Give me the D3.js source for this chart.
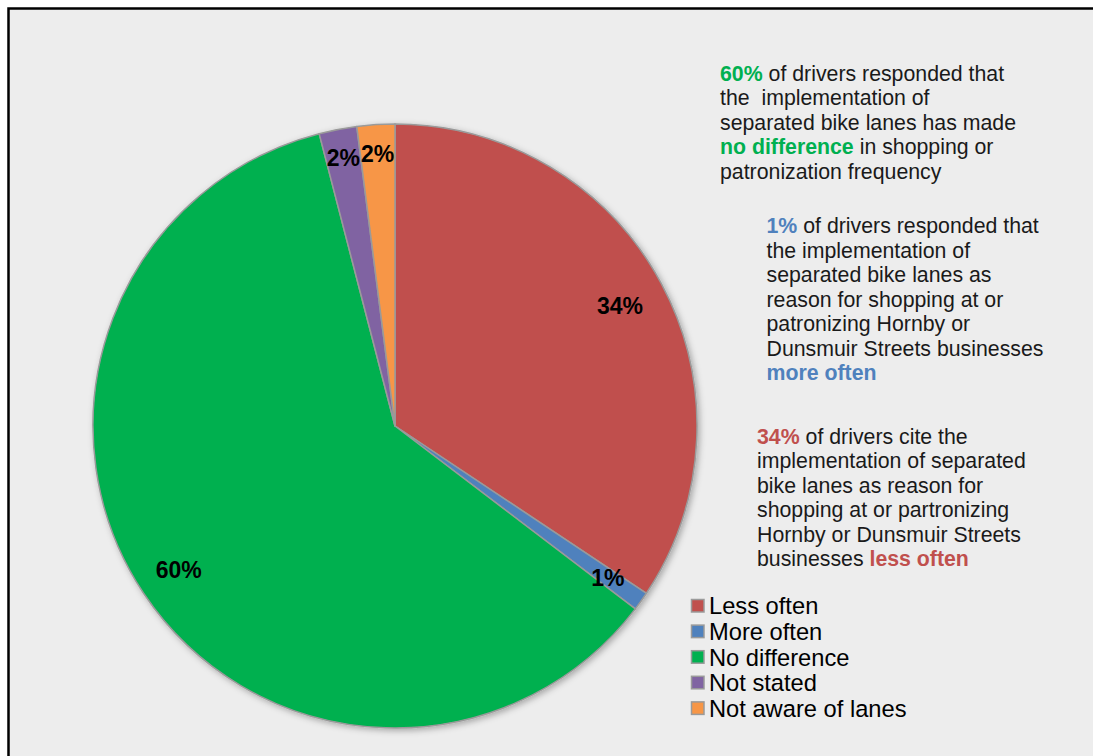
<!DOCTYPE html>
<html>
<head>
<meta charset="utf-8">
<script src="https://cdn.jsdelivr.net/npm/d3@7"></script>
<style>
  html, body { margin: 0; padding: 0; background: #ffffff; overflow: hidden; }
  svg { display: block; font-family: "Liberation Sans", Arial, sans-serif; }
</style>
</head>
<body>
<svg id="chart" width="1093" height="756"></svg>
<script>
// Survey responses: effect of separated bike lanes on drivers' shopping frequency
const categories = ["Less often", "More often", "No difference", "Not stated", "Not aware of lanes"];
const values = [34, 1, 60, 2, 2];
const colors = ["#C0504D", "#4F81BD", "#00B050", "#8064A2", "#F79646"];

// Annotation blocks: each line is a list of [text, bold?, colour?] runs
const noteNoDifference = [
  [["60%", true, "#00B050"], [" of drivers responded that"]],
  [["the \u00A0implementation of"]],
  [["separated bike lanes has made"]],
  [["no difference", true, "#00B050"], [" in shopping or"]],
  [["patronization frequency"]]
];
const noteMoreOften = [
  [["1%", true, "#4F81BD"], [" of drivers responded that"]],
  [["the implementation of"]],
  [["separated bike lanes as"]],
  [["reason for shopping at or"]],
  [["patronizing Hornby or"]],
  [["Dunsmuir Streets businesses"]],
  [["more often", true, "#4F81BD"]]
];
const noteLessOften = [
  [["34%", true, "#C0504D"], [" of drivers cite the"]],
  [["implementation of separated"]],
  [["bike lanes as reason for"]],
  [["shopping at or partronizing"]],
  [["Hornby or Dunsmuir Streets"]],
  [["businesses "], ["less often", true, "#C0504D"]]
];

const svg = d3.select("#chart");
const W = 1093, H = 756;

// Panel background
svg.append("rect")
  .attr("x", 8).attr("y", 8)
  .attr("width", W - 8).attr("height", H - 8)
  .attr("fill", "#EDEDED");
// Frame: top and left edges (the others run past the visible area)
svg.append("path")
  .attr("d", `M8.5,${H} V8.5 H${W}`)
  .attr("fill", "none")
  .attr("stroke", "#000").attr("stroke-width", 2.5);

// Soft shadow under the pie
const defs = svg.append("defs");
const f = defs.append("filter").attr("id", "pieShadow")
  .attr("x", "-10%").attr("y", "-10%").attr("width", "120%").attr("height", "120%");
f.append("feDropShadow").attr("dx", 2).attr("dy", 2)
  .attr("stdDeviation", 3).attr("flood-color", "#000").attr("flood-opacity", 0.3);

const cx = 395, cy = 426, r = 302;
const data = categories.map((c, i) => ({ name: c, value: values[i], color: colors[i] }));

const pie = d3.pie().value(d => d.value).sort(null);
const arcs = pie(data);
const arc = d3.arc().innerRadius(0).outerRadius(r);

const g = svg.append("g").attr("transform", `translate(${cx},${cy})`);

g.append("g").attr("filter", "url(#pieShadow)")
  .selectAll("path").data(arcs).join("path")
  .attr("d", arc)
  .attr("fill", d => d.data.color)
  .attr("stroke", "#9a9a9a")
  .attr("stroke-width", 1.5)
  .attr("stroke-linejoin", "round");

// Percentage labels inside slices
const total = d3.sum(values);
g.selectAll("text.pct").data(arcs).join("text")
  .attr("class", "pct")
  .attr("transform", d => {
    const share = d.data.value / total;
    const rr = share < 0.015 ? 0.865 : share < 0.05 ? 0.905 : share > 0.5 ? 0.86 : 0.845;
    const a = (d.startAngle + d.endAngle) / 2;
    return `translate(${Math.sin(a) * r * rr},${-Math.cos(a) * r * rr})`;
  })
  .attr("text-anchor", "middle")
  .attr("dy", "0.36em")
  .attr("font-size", 23)
  .attr("font-weight", "bold")
  .attr("fill", "#000")
  .text(d => d.data.value + "%");

// Annotation text blocks
function drawNote(lines, x, y0, step) {
  const t = svg.append("text").attr("font-size", 21.3).attr("fill", "#1a1a1a");
  lines.forEach((runs, i) => {
    const line = t.append("tspan").attr("x", x).attr("y", y0 + i * step);
    runs.forEach(([txt, bold, col], j) => {
      const s = j === 0 ? line : t.append("tspan");
      s.text(txt);
      if (bold) s.attr("font-weight", "bold");
      if (col) s.attr("fill", col);
    });
  });
}
drawNote(noteNoDifference, 720, 81, 24.4);
drawNote(noteMoreOften, 766.5, 233, 24.5);
drawNote(noteLessOften, 757, 444, 24.4);

// Legend
const legend = svg.append("g").attr("transform", "translate(691,599)");
const items = legend.selectAll("g").data(data).join("g")
  .attr("transform", (d, i) => `translate(0,${i * 25.6})`);
items.append("rect")
  .attr("x", 0.5).attr("y", 0.5).attr("width", 12.5).attr("height", 12.5)
  .attr("fill", d => d.color)
  .attr("stroke", "#9a9a9a").attr("stroke-width", 1.5);
items.append("text")
  .attr("x", 18).attr("y", 15.3)
  .attr("font-size", 23.7)
  .attr("fill", "#000")
  .text(d => d.name);
</script>
</body>
</html>
